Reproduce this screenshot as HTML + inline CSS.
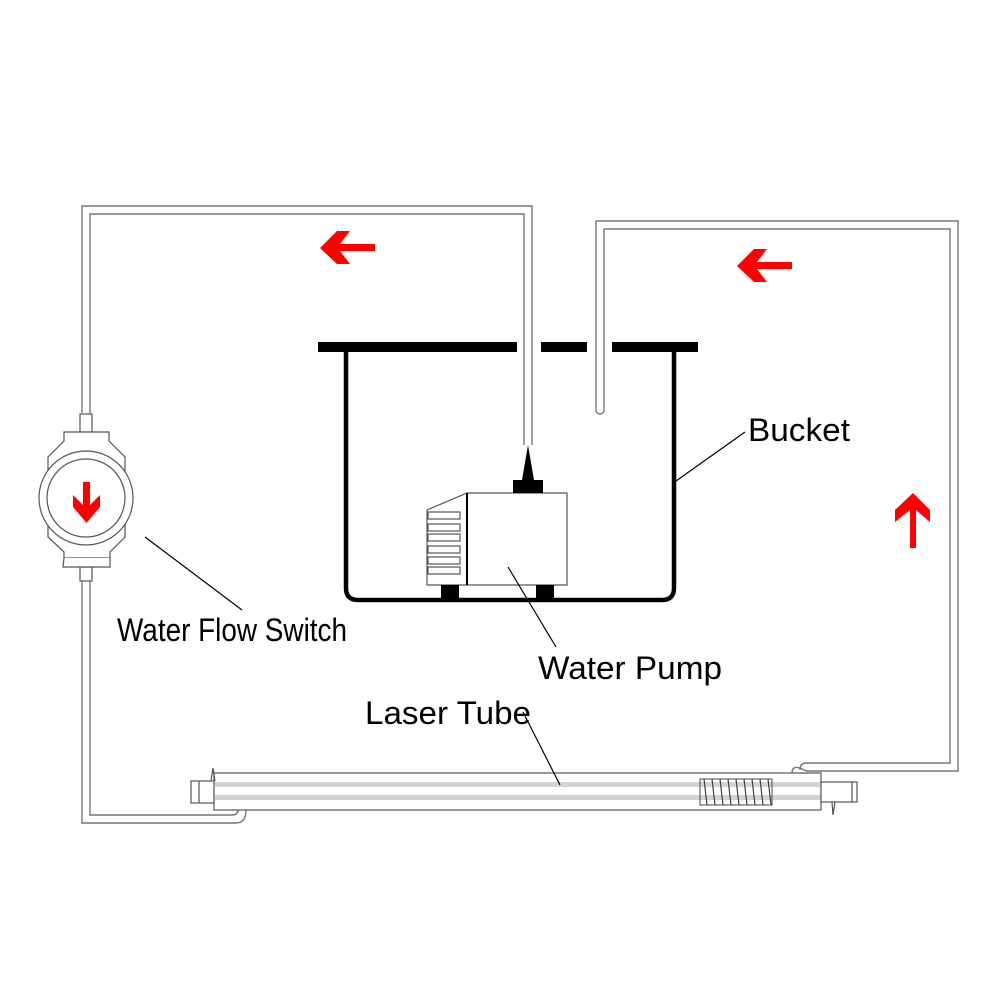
<!DOCTYPE html>
<html><head><style>html,body{margin:0;padding:0;background:#fff}svg{display:block}</style></head>
<body>
<svg width="1000" height="1000" viewBox="0 0 1000 1000" xmlns="http://www.w3.org/2000/svg">
<rect width="1000" height="1000" fill="#fff"/>
<g fill="none" stroke="#777" stroke-width="1.4">
<path d="M82 413 V206 H532 V445"/>
<path d="M90 413 V214 H524 V445"/>
<path d="M82 570 V823 H236"/>
<path d="M90 570 V815 H232"/>
<path d="M236 823 Q246 823 246 810"/>
<path d="M232 815 Q238 815 238 810"/>
<path d="M596 410 V221 H958 V771 H806"/>
<path d="M604 410 V229 H950 V763 H806"/>
<path d="M596 410 A4 4 0 0 0 604 410"/>
<path d="M806 763 Q800 763 800 770"/>
<path d="M806 771 Q792 763 792 773"/>
</g>
<g fill="#000">
<rect x="318" y="342" width="199" height="10"/>
<rect x="541" y="342" width="46" height="10"/>
<rect x="612" y="342" width="86" height="10"/>
</g>
<path d="M346 352 V588 Q346 600 358 600 H662 Q674 600 674 588 V352" fill="none" stroke="#000" stroke-width="4.5"/>
<g stroke="#555" stroke-width="1.2" fill="#fff">
<path d="M427 510 L467 493 H567 V585 H427 Z"/>
<rect x="428" y="512" width="32" height="7"/>
<rect x="428" y="524" width="32" height="7"/>
<rect x="428" y="534" width="32" height="7"/>
<rect x="428" y="546" width="32" height="7"/>
<rect x="428" y="557" width="32" height="7"/>
<rect x="428" y="567" width="32" height="7"/>
</g>
<line x1="467" y1="493" x2="467" y2="585" stroke="#000" stroke-width="2"/>
<g fill="#000">
<rect x="513" y="480" width="30" height="13"/>
<path d="M522 480 L528 445 L534 480 Z"/>
<rect x="441" y="585" width="18" height="13"/>
<rect x="536" y="585" width="18" height="13"/>
</g>
<!-- flow switch -->
<g stroke="#555" stroke-width="1.2" fill="#fff">
<rect x="80" y="414" width="12" height="18"/>
<rect x="80" y="567" width="12" height="14"/>
<path d="M64 432 H109 V441 L125 457 V537 L110 552 V558 H64 V552 L48 537 V457 L64 441 Z"/>
<path d="M64 558 L63 567 H110 L110 558" />
<circle cx="86" cy="498" r="47"/>
<circle cx="86" cy="498" r="39"/>
</g>
<path d="M83 482 H90 V505 L100 495 V507 L86.5 523 L73 507 V495 L83 505 Z" fill="#f00"/>
<g fill="#f00">
<path d="M320 248 L337 231 H350 L340 244 H375 V251 H340 L350 264 H337 Z"/>
<path d="M737 266 L754 249 H767 L757 262 H792 V269 H757 L767 282 H754 Z"/>
<path d="M913 493 L930 510 V522 L916 510 V548 H910 V510 L895 522 V510 Z"/>
</g>
<g stroke="#555" stroke-width="1.2" fill="#fff">
<rect x="191" y="781" width="23" height="22"/>
<line x1="199" y1="781" x2="199" y2="803"/>
<rect x="214" y="773" width="607" height="37"/>
<rect x="821" y="782" width="36" height="20"/>
<line x1="852" y1="782" x2="852" y2="802"/>
<path d="M211 781 L213 768 L215 781" fill="none"/>
<path d="M832 802 L833 815 L835 802" fill="none"/>
</g>
<g fill="#d3d3d3">
<rect x="215" y="782" width="605" height="5"/>
<rect x="215" y="795" width="605" height="5"/>
</g>
<g stroke="#333" stroke-width="1.1" fill="none">
<rect x="700" y="779" width="72" height="26" stroke="#555"/>
<path d="M704 779 L707 805 M712 779 L715 805 M720 779 L723 805 M728 779 L731 805 M736 779 L739 805 M744 779 L747 805 M752 779 L755 805 M760 779 L763 805 M768 779 L771 805"/>
</g>
<g stroke="#000" stroke-width="1.2">
<line x1="745" y1="432" x2="676" y2="481"/>
<line x1="145" y1="537" x2="242" y2="610"/>
<line x1="508" y1="567" x2="556" y2="647"/>
<line x1="523" y1="712" x2="560" y2="785"/>
</g>
<g font-family="Liberation Sans, sans-serif" font-size="32" fill="#000">
<text x="748" y="441" textLength="102" lengthAdjust="spacingAndGlyphs">Bucket</text>
<text x="117" y="641" textLength="230" lengthAdjust="spacingAndGlyphs">Water Flow Switch</text>
<text x="538" y="679" textLength="184" lengthAdjust="spacingAndGlyphs">Water Pump</text>
<text x="365" y="724" textLength="166" lengthAdjust="spacingAndGlyphs">Laser Tube</text>
</g>
</svg>
</body></html>
